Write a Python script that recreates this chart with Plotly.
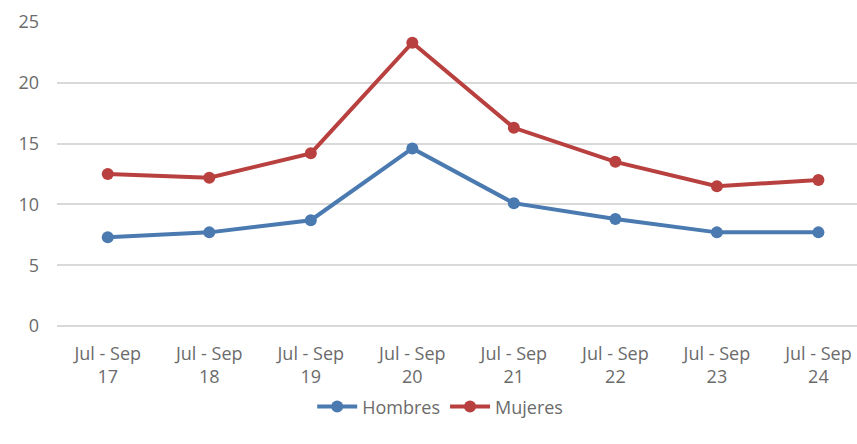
import plotly.graph_objects as go

categories = ["Jul - Sep<br>17", "Jul - Sep<br>18", "Jul - Sep<br>19", "Jul - Sep<br>20",
              "Jul - Sep<br>21", "Jul - Sep<br>22", "Jul - Sep<br>23", "Jul - Sep<br>24"]
hombres = [7.3, 7.7, 8.7, 14.6, 10.1, 8.8, 7.7, 7.7]
mujeres = [12.5, 12.2, 14.2, 23.3, 16.3, 13.5, 11.5, 12.0]
y_ticks = [0, 5, 10, 15, 20, 25]

font_family = "Open Sans, sans-serif"
text_color = "#6b6b6b"

fig = go.Figure()
fig.add_trace(go.Scatter(x=categories, y=hombres, name="Hombres", mode="lines+markers",
                         line=dict(color="#4a7ab0", width=4),
                         marker=dict(color="#4a7ab0", size=12)))
fig.add_trace(go.Scatter(x=categories, y=mujeres, name="Mujeres", mode="lines+markers",
                         line=dict(color="#b8403f", width=4),
                         marker=dict(color="#b8403f", size=12)))

fig.update_layout(
    width=857, height=444,
    margin=dict(l=57, r=0, t=22, b=118),
    paper_bgcolor="white", plot_bgcolor="white",
    font=dict(family=font_family, size=17, color=text_color),
    showlegend=True,
    legend=dict(orientation="h", x=0.479, xanchor="center", y=-0.266, yanchor="middle",
                font=dict(size=18, color=text_color), itemwidth=40, tracegroupgap=0),
    xaxis=dict(type="category", range=[-0.5, 7.38], showgrid=False, showline=False,
               zeroline=False, ticks="", tickfont=dict(size=18), ticklabelstandoff=15),
    yaxis=dict(range=[0, 25], tickvals=y_ticks, showgrid=True, gridcolor="#d9d9d9",
               gridwidth=2, zeroline=True, zerolinecolor="#d9d9d9", zerolinewidth=2,
               showline=False, ticks="", ticklabelstandoff=17,
               tickfont=dict(size=18)),
)

fig.write_html("out.html")
